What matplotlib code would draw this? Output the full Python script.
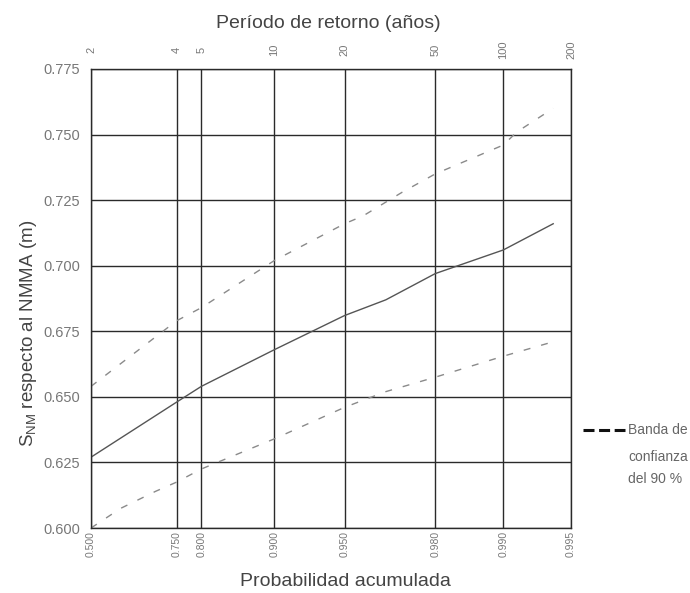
import numpy as np
import matplotlib
matplotlib.use("Agg")
import matplotlib.pyplot as plt
from matplotlib.lines import Line2D
from matplotlib import font_manager

# ---------------- data ----------------
prob_ticks = [0.500, 0.750, 0.800, 0.900, 0.950, 0.980, 0.990, 0.995]
prob_tick_labels = ["0.500", "0.750", "0.800", "0.900", "0.950", "0.980", "0.990", "0.995"]
return_periods = [2, 4, 5, 10, 20, 50, 100, 200]
y_ticks = [0.600, 0.625, 0.650, 0.675, 0.700, 0.725, 0.750, 0.775]

median_p = [0.500, 0.750, 0.800, 0.900, 0.950, 0.967, 0.980, 0.990, 0.994]
median_v = [0.627, 0.648, 0.654, 0.668, 0.681, 0.687, 0.697, 0.706, 0.716]

upper_p = [0.500, 0.750, 0.800, 0.900, 0.950, 0.9585, 0.972, 0.980, 0.990, 0.9913, 0.994]
upper_v = [0.654, 0.679, 0.684, 0.702, 0.716, 0.719, 0.728, 0.735, 0.746, 0.751, 0.760]

lower_p = [0.500, 0.600, 0.700, 0.750, 0.800, 0.900, 0.950, 0.967, 0.980, 0.990, 0.994]
lower_v = [0.600, 0.6075, 0.614, 0.6175, 0.6225, 0.634, 0.646, 0.652, 0.6575, 0.6655, 0.671]

# ---------------- fonts ----------------
names = {f.name for f in font_manager.fontManager.ttflist}
BASE = "Liberation Sans" if "Liberation Sans" in names else "DejaVu Sans"
NARROW = "Liberation Sans Narrow" if "Liberation Sans Narrow" in names else BASE
plt.rcParams["font.family"] = [BASE, "DejaVu Sans"]
plt.rcParams["mathtext.fontset"] = "custom"
plt.rcParams["mathtext.rm"] = BASE
plt.rcParams["mathtext.it"] = BASE

# Gumbel probability scale
def fwd(p):
    p = np.clip(np.asarray(p, dtype=float), 1e-12, 1 - 1e-12)
    return -np.log(-np.log(p))

def inv(y):
    return np.exp(-np.exp(-np.asarray(y, dtype=float)))

W, H = 690, 593
fig = plt.figure(figsize=(W / 100, H / 100), dpi=100)
ax = fig.add_axes([91 / W, 1 - 528 / H, (571 - 91) / W, (528 - 69) / H])
ax.set_xscale("function", functions=(fwd, inv))
ax.set_xlim(0.500, 0.995)
ax.set_ylim(0.600, 0.775)

grid_col = "#2a2a2a"
for s in ax.spines.values():
    s.set_color(grid_col)
    s.set_linewidth(1.0)

ax.set_xticks(prob_ticks)
ax.set_xticklabels(prob_tick_labels, rotation=90, fontsize=7.5, color="#777777")
ax.set_yticks(y_ticks)
ax.set_yticklabels([f"{v:.3f}" for v in y_ticks], fontsize=10.5, color="#777777")
ax.tick_params(axis="x", length=0, pad=2)
ax.tick_params(axis="y", length=0, pad=8)
ax.minorticks_off()
ax.grid(True, color=grid_col, linewidth=1.0)
ax.set_axisbelow(True)

# Top axis: return period (same Gumbel scale)
top = ax.twiny()
top.set_xscale("function", functions=(fwd, inv))
top.set_xlim(ax.get_xlim())
top.set_xticks([1 - 1 / T for T in return_periods])
top.set_xticklabels([str(T) for T in return_periods], rotation=90, fontsize=8, color="#777777")
top.minorticks_off()
top.tick_params(axis="x", length=0, pad=14)
for lab in top.get_xticklabels():
    lab.set_verticalalignment("center")
for s in top.spines.values():
    s.set_visible(False)

# Curves
ax.plot(median_p, median_v, color="#555555", lw=1.0, solid_joinstyle="round")
ax.plot(upper_p, upper_v, color="#8a8a8a", lw=1.0, dashes=(5, 8))
ax.plot(lower_p, lower_v, color="#8a8a8a", lw=1.0, dashes=(5, 8))

# Titles / labels
fig.text(328 / W, 1 - 23 / H, "Período de retorno (años)", ha="center", va="center",
         fontsize=14, color="#444444")
fig.text(345 / W, 1 - 582 / H, "Probabilidad acumulada", ha="center", va="center",
         fontsize=14, color="#444444")
fig.text(29 / W, 1 - 333 / H, r"S$_{\mathrm{NM}}$ respecto al NMMA (m)", ha="center",
         va="center", rotation=90, fontsize=13.5, color="#444444")

# Legend for confidence band
fig.add_artist(Line2D([583 / W, 625 / W], [1 - 430 / H, 1 - 430 / H],
                      transform=fig.transFigure, color="#111111", lw=2.2,
                      dashes=(3.6, 1.5)))
leg_fs = 12 if NARROW != BASE else 10
for txt, yy in [("Banda de", 430), ("confianza", 457), ("del 90 %", 479)]:
    fig.text(628 / W, 1 - yy / H, txt, ha="left", va="center", fontsize=leg_fs,
             color="#666666", family=[NARROW, "DejaVu Sans"])

fig.savefig("out.png", dpi=100)
